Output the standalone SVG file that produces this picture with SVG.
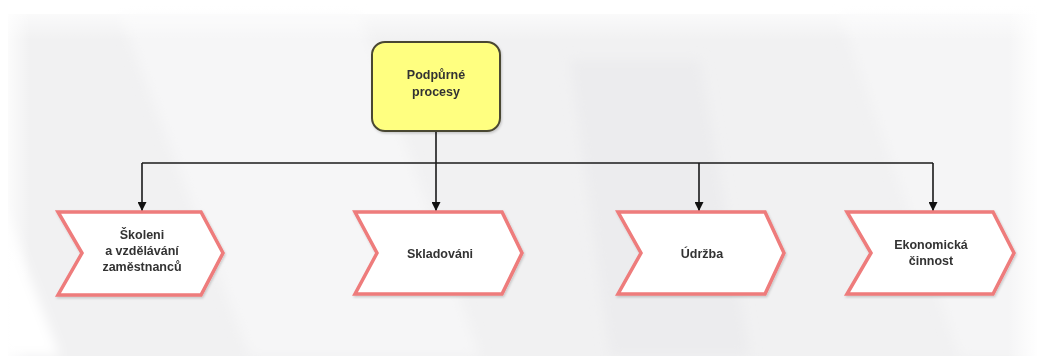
<svg xmlns="http://www.w3.org/2000/svg" width="1038" height="356" viewBox="0 0 1038 356">
  <defs>
    <style>
      .lbl { font-family: "Liberation Sans", Arial, sans-serif; font-weight: bold; font-size: 12.5px; fill: #333333; text-anchor: middle; }
      .step { fill: #ffffff; stroke: #ee7b7b; stroke-width: 3.5; stroke-linejoin: miter; }
      .wire { fill: none; stroke: #1a1a1a; stroke-width: 1.6; }
    </style>
    <marker id="head" viewBox="0 0 10 10" refX="10" refY="5" markerWidth="10" markerHeight="9" orient="auto" markerUnits="userSpaceOnUse">
      <path d="M0,0 L10,5 L0,10 z" fill="#111111"/>
    </marker>
    <linearGradient id="fadeTop" x1="0" y1="0" x2="0" y2="1">
      <stop offset="0" stop-color="#ffffff" stop-opacity="1"/>
      <stop offset="1" stop-color="#ffffff" stop-opacity="0"/>
    </linearGradient>
    <linearGradient id="fadeLeft" x1="0" y1="0" x2="1" y2="0">
      <stop offset="0" stop-color="#ffffff" stop-opacity="1"/>
      <stop offset="1" stop-color="#ffffff" stop-opacity="0"/>
    </linearGradient>
    <filter id="soft" x="-5%" y="-5%" width="110%" height="110%">
      <feGaussianBlur stdDeviation="6"/>
    </filter>
    <filter id="shadow" x="-10%" y="-10%" width="120%" height="120%">
      <feDropShadow dx="1" dy="1.5" stdDeviation="1.2" flood-color="#000000" flood-opacity="0.18"/>
    </filter>
  </defs>

  <!-- backdrop -->
  <rect width="1038" height="356" fill="#ffffff"/>
  <rect x="8" y="14" width="1030" height="342" fill="#f1f1f2"/>
  <g filter="url(#soft)">
    <polygon points="120,14 360,14 480,356 250,356" fill="#f6f6f7"/>
    <polygon points="570,60 700,60 750,356 610,356" fill="#ececee"/>
    <polygon points="840,14 1038,14 1038,356 960,356" fill="#f5f5f6"/>
    <polygon points="0,200 60,356 0,356" fill="#ffffff"/>
  </g>
  <rect x="0" y="0" width="1038" height="40" fill="url(#fadeTop)"/>
  <rect x="0" y="0" width="30" height="356" fill="url(#fadeLeft)"/>
  <rect x="1008" y="0" width="30" height="356" fill="url(#fadeLeft)" transform="rotate(180 1023 178)"/>

  <!-- connectors -->
  <g id="connectors">
    <line class="wire" x1="436" y1="131" x2="436" y2="163"/>
    <line class="wire" x1="142" y1="163" x2="933" y2="163"/>
    <line class="wire" x1="142" y1="163" x2="142" y2="211" marker-end="url(#head)"/>
    <line class="wire" x1="436" y1="163" x2="436" y2="211" marker-end="url(#head)"/>
    <line class="wire" x1="699" y1="163" x2="699" y2="211" marker-end="url(#head)"/>
    <line class="wire" x1="933" y1="163" x2="933" y2="211" marker-end="url(#head)"/>
  </g>

  <!-- parent process -->
  <g id="podpurne-procesy" filter="url(#shadow)">
    <rect x="372" y="42" width="128" height="89" rx="13" ry="13" fill="#ffff80" stroke="#4a4733" stroke-width="2"/>
    <text class="lbl" x="436" y="79">Podpůrné</text>
    <text class="lbl" x="436" y="96">procesy</text>
  </g>

  <!-- sub-processes -->
  <g id="skoleni" filter="url(#shadow)">
    <polygon class="step" points="58,212 201,212 223,253 201,295 58,295 82,253"/>
    <text class="lbl" x="142" y="239">Školeni</text>
    <text class="lbl" x="142" y="255">a vzdělávání</text>
    <text class="lbl" x="142" y="271">zaměstnanců</text>
  </g>

  <g id="skladovani" filter="url(#shadow)">
    <polygon class="step" points="355,212 502,212 522,253 502,294 355,294 377,253"/>
    <text class="lbl" x="440" y="258">Skladováni</text>
  </g>

  <g id="udrzba" filter="url(#shadow)">
    <polygon class="step" points="618,212 765,212 784,253 765,294 618,294 641,253"/>
    <text class="lbl" x="702" y="258">Údržba</text>
  </g>

  <g id="ekonomicka-cinnost" filter="url(#shadow)">
    <polygon class="step" points="847,212 993,212 1014,253 993,294 847,294 871,253"/>
    <text class="lbl" x="931" y="249">Ekonomická</text>
    <text class="lbl" x="931" y="265">činnost</text>
  </g>
</svg>
